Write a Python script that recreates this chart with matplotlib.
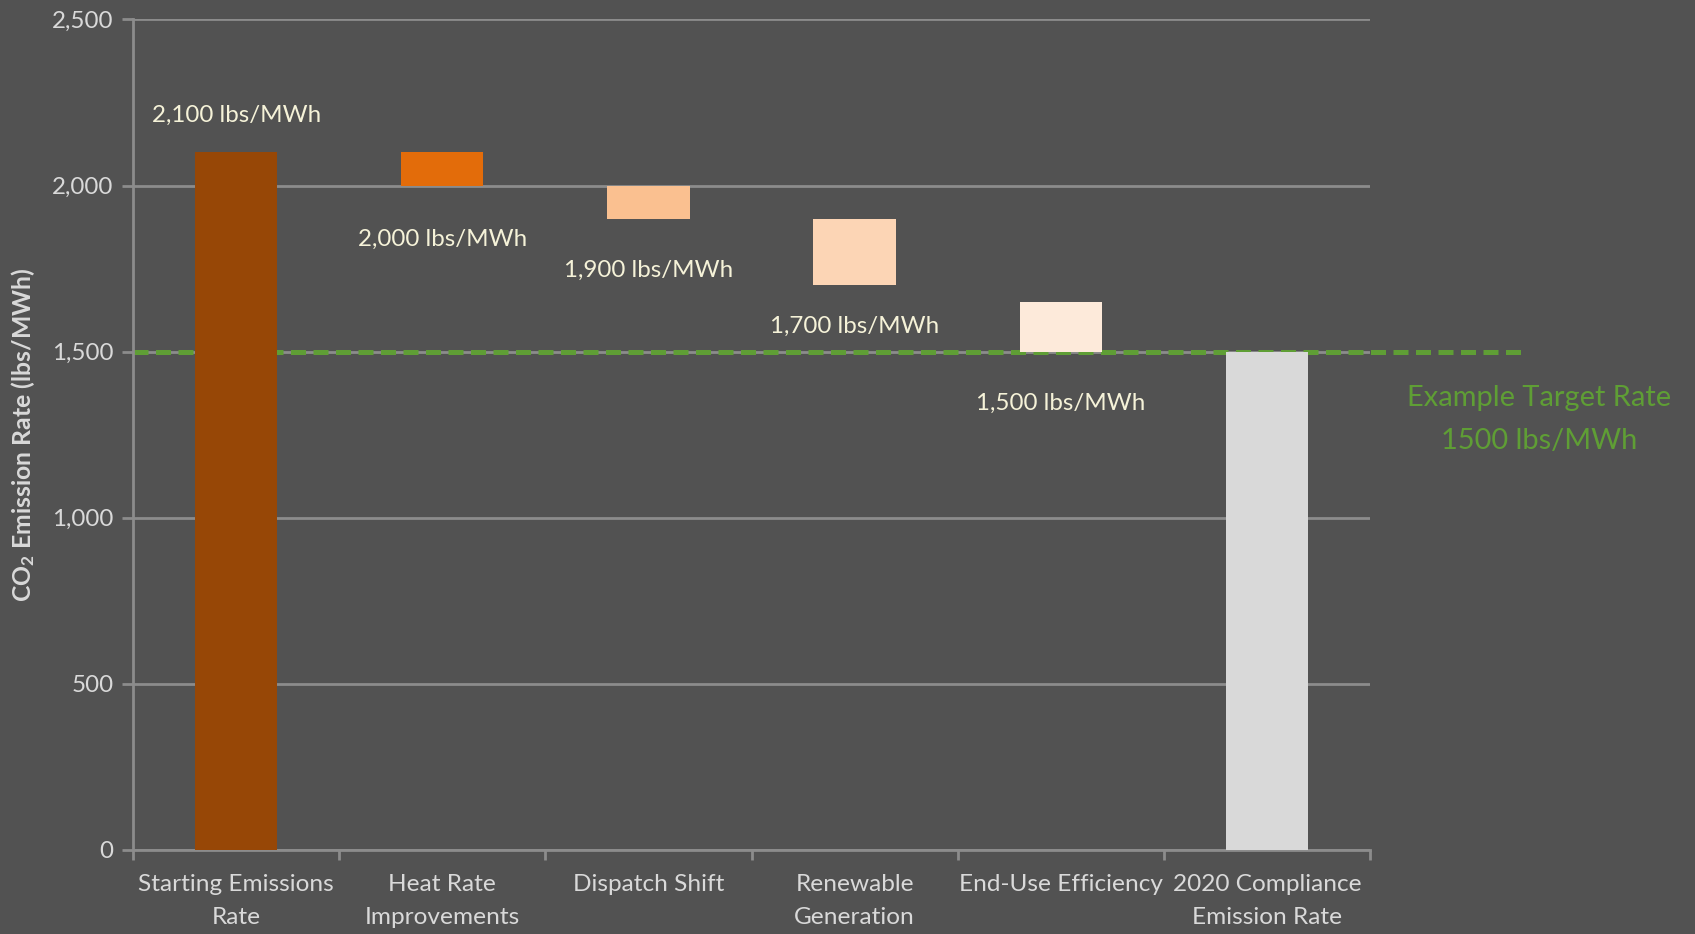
import matplotlib
matplotlib.use("Agg")
import matplotlib.pyplot as plt
import numpy as np

# Waterfall data (lbs/MWh)
categories = ["Starting Emissions\nRate", "Heat Rate\nImprovements", "Dispatch Shift",
              "Renewable\nGeneration", "End-Use Efficiency", "2020 Compliance\nEmission Rate"]
bar_tops = [2100, 2100, 2000, 1900, 1650, 1500]
bar_bottoms = [0, 2000, 1900, 1700, 1500, 0]
label_values = [2100, 2000, 1900, 1700, 1500]
target_rate = 1500

bar_colors = ["#974706", "#E36C0A", "#FAC090", "#FCD5B5", "#FDEADA", "#D9D9D9"]

BG = "#525252"
GRID = "#8C8C8C"
TXT = "#D9D9D9"
LBL = "#F5F2D8"
GREEN = "#5F9E35"

plt.rcParams["font.family"] = ["Lato", "DejaVu Sans"]
plt.rcParams["mathtext.fontset"] = "custom"
plt.rcParams["mathtext.rm"] = "Lato"
plt.rcParams["mathtext.bf"] = "Lato:bold"

fig = plt.figure(figsize=(16.95, 9.34), dpi=100, facecolor=BG)
ax = fig.add_axes([133 / 1695, 1 - 850 / 934, (1370 - 133) / 1695, (850 - 19.5) / 934])
ax.set_facecolor(BG)

x = np.arange(len(categories))
heights = [t - b for t, b in zip(bar_tops, bar_bottoms)]
ax.bar(x, heights, bottom=bar_bottoms, width=0.4, color=bar_colors, zorder=3)

# Target line extends past the plot area toward its annotation
ax.plot([-0.5, 6.25], [target_rate, target_rate], color=GREEN, lw=3.6,
        linestyle=(0, (3.0, 1.5)), clip_on=False, zorder=2.5,
        solid_capstyle="butt", dash_capstyle="butt")

# Value labels
label_y = [2210, 1839, 1745, 1576, 1345]
for i, (v, yy) in enumerate(zip(label_values, label_y)):
    ax.text(i, yy, f"{v:,} lbs/MWh", ha="center", va="center", color=LBL, fontsize=17.4)

ax.set_xlim(-0.5, 5.5)
ax.set_ylim(0, 2500)
ax.set_yticks(np.arange(0, 2501, 500))
ax.set_yticklabels([f"{v:,}" for v in range(0, 2501, 500)])
ax.yaxis.grid(True, color=GRID, lw=2, zorder=0)
ax.set_axisbelow(True)

ax.set_xticks(np.arange(-0.5, 5.6, 1))
ax.set_xticklabels([])
ax.set_xticks(x, minor=True)
ax.set_xticklabels(categories, minor=True, linespacing=1.72)
ax.tick_params(axis="x", which="major", length=7, width=2, color=GRID, direction="out")
ax.tick_params(axis="x", which="minor", length=0, pad=17, labelsize=17.6, labelcolor=TXT)
ax.tick_params(axis="y", length=8, width=2, color=GRID, pad=6, labelsize=17.4, labelcolor=TXT)

for s in ["top", "right"]:
    ax.spines[s].set_visible(False)
for s in ["left", "bottom"]:
    ax.spines[s].set_color(GRID)
    ax.spines[s].set_linewidth(2)

ax.set_ylabel(r"$\mathbf{CO_2}$ Emission Rate (lbs/MWh)", fontsize=17.8,
              fontweight="bold", color=TXT)
ax.yaxis.set_label_coords(-0.0776, 0.5)

fig.text(1539 / 1695, 1 - 398 / 934, "Example Target Rate", color=GREEN,
         fontsize=20.9, ha="center", va="center")
fig.text(1539 / 1695, 1 - 441 / 934, "1500 lbs/MWh", color=GREEN,
         fontsize=20.9, ha="center", va="center")

fig.savefig("out.png", dpi=100, facecolor=BG)
